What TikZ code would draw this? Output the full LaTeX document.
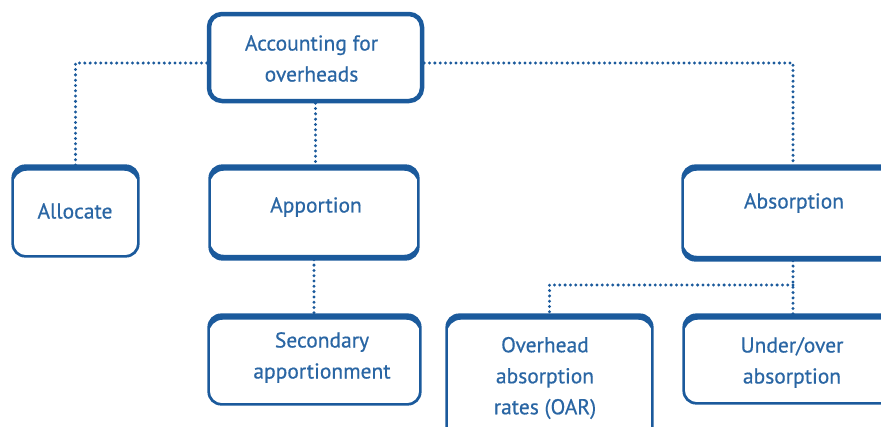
\documentclass[tikz,border=0pt]{standalone}
\usepackage{fontspec}
\setmainfont{PT Sans}
\newfontfamily\lblfont{PT Sans}[FakeBold=0.5]
\definecolor{bb}{HTML}{1B5A9C}
\definecolor{tb}{HTML}{2A66A4}
\begin{document}
\begin{tikzpicture}[x=1pt,y=-1pt,
 box/.style={draw=bb, line width=1.6pt, rounded corners=13pt, fill=white, inner sep=0pt, rectangle},
 lbl/.style={text=tb, font=\lblfont\fontsize{21.5}{31}\selectfont, align=center, inner sep=0pt},
 conn/.style={draw=bb, line width=3.3pt, line cap=round, dash pattern=on 0pt off 5.3pt},
 crescent/.style={fill=bb, even odd rule, rounded corners=13.8pt}]
\useasboundingbox (0,0) rectangle (881,426);
\clip (0,0) rectangle (881,426);
% boxes
\node[box, minimum width=213pt, minimum height=87pt, line width=4.5pt] (acc) at (315.5,57.5) {};
\node[box, minimum width=125pt, minimum height=90pt] (alloc) at (75.5,211) {};
\node[box, minimum width=208pt, minimum height=93pt] (app) at (314,212.5) {};
\node[box, minimum width=220pt, minimum height=94pt] (abs) at (793,213) {};
\node[box, minimum width=211pt, minimum height=89pt] (sec) at (314.5,359.5) {};
\node[box, minimum width=205pt, minimum height=125pt] (oar) at (549.5,377.5) {};
\node[box, minimum width=218pt, minimum height=88pt] (uo) at (793,359) {};
% thick edges (top, and bottom where the box has one): outer outline minus inner offset outline
\foreach \b/\tp/\bt in {alloc/5.5pt/0.8pt,app/5.5pt/5pt,abs/5.5pt/5pt,sec/5.5pt/0.8pt,oar/5.5pt/0.8pt,uo/5.5pt/0.8pt}
  \fill[crescent]
    ([shift={(-0.8pt,0.8pt)}]\b.north west) rectangle ([shift={(0.8pt,-0.8pt)}]\b.south east)
    ([shift={(0.8pt,-\tp)}]\b.north west) rectangle ([shift={(-0.8pt,\bt)}]\b.south east);
% texts
\node[lbl] (acc-t) at (311.5,58.5) {Accounting for\\overheads};
\node[lbl] (alloc-t) at (75,211) {Allocate};
\node[lbl] (app-t) at (316,207) {Apportion};
\node[lbl] (abs-t) at (794,203) {Absorption};
\node[lbl] (sec-t) at (322,357.5) {Secondary\\apportionment};
\node[lbl] (oar-t) at (545,378) {Overhead\\absorption\\rates (OAR)};
\node[lbl] (uo-t) at (792,362.5) {Under/over\\absorption};
% connectors
\draw[conn] ([yshift=-5.5pt]acc.west) -| (alloc.north);
\draw[conn] ([yshift=-5.5pt]acc.east) -| (abs.north);
\draw[conn] (acc.south) -- (acc.south |- app.north);
\draw[conn] (app.south) -- (app.south |- sec.north);
\draw[conn] (abs.south) -- (uo.north);
\coordinate (j) at (793,285);
\draw[conn] (j) -| (oar.north);
\end{tikzpicture}
\end{document}
